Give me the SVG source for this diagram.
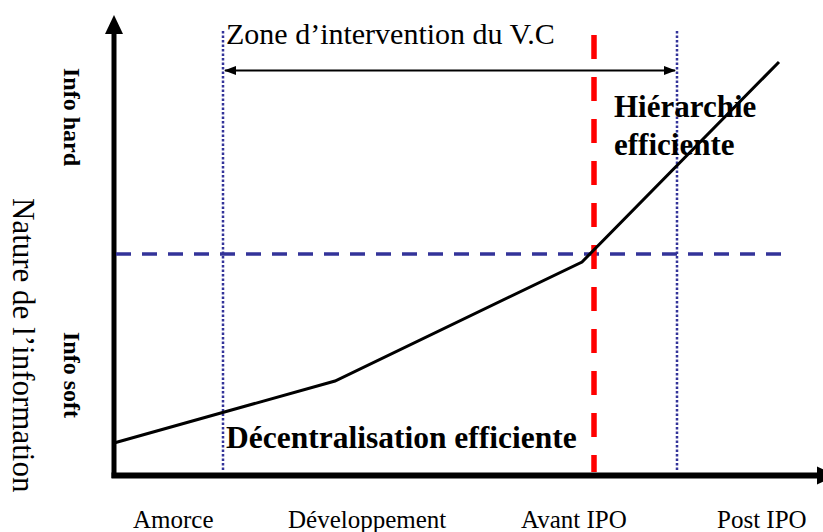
<svg xmlns="http://www.w3.org/2000/svg" width="823" height="532" viewBox="0 0 823 532">
<style>
text{font-family:"Liberation Serif","Times New Roman",serif;fill:#000}
.b{font-weight:bold}
.ax{stroke:#000;fill:none}
.dot{stroke:#333399;stroke-width:2.5;stroke-dasharray:2.5 2;fill:none}
</style>
<defs>
<marker id="big" markerUnits="userSpaceOnUse" markerWidth="20" markerHeight="20" refX="0" refY="9" orient="auto" viewBox="0 0 20 18">
<path d="M0,0 L19,9 L0,18 Z" fill="#000"/>
</marker>
<marker id="sm" markerUnits="userSpaceOnUse" markerWidth="12" markerHeight="10" refX="11" refY="4.5" orient="auto-start-reverse" viewBox="0 0 12 9">
<path d="M0,0 L12,4.5 L0,9 Z" fill="#000"/>
</marker>
</defs>
<g id="axes">
<line class="ax" x1="114" y1="478" x2="114" y2="34" stroke-width="5" marker-end="url(#big)"/>
<line class="ax" x1="111.5" y1="475.5" x2="817" y2="475.5" stroke-width="6" marker-end="url(#big)"/>
</g>
<g id="guides">
<line class="dot" x1="223" y1="31" x2="223" y2="471"/>
<line class="dot" x1="677" y1="31" x2="677" y2="471"/>
<line x1="116" y1="254" x2="790" y2="254" stroke="#333399" stroke-width="3.5" stroke-dasharray="15 11"/>
<line x1="594" y1="35" x2="594" y2="472" stroke="#ff0000" stroke-width="5.5" stroke-dasharray="24 18"/>
</g>
<g id="connectors">
<line x1="225" y1="70.5" x2="675" y2="70.5" stroke="#000" stroke-width="2" marker-start="url(#sm)" marker-end="url(#sm)"/>
<polyline points="114,443 335,381 582,262 779,62" fill="none" stroke="#000" stroke-width="3"/>
</g>
<g id="zone-label"><text x="226" y="44" font-size="30">Zone d’intervention du V.C</text></g>
<g id="hierarchie"><text class="b" x="614" y="117" font-size="31">Hiérarchie</text><text class="b" x="614" y="155" font-size="31">efficiente</text></g>
<g id="decentralisation"><text class="b" x="226" y="448" font-size="31.5">Décentralisation efficiente</text></g>
<g id="y-labels">
<text class="b" font-size="24" transform="translate(64,68) rotate(90)">Info hard</text>
<text class="b" font-size="24" transform="translate(64,332) rotate(90)">Info soft</text>
<text font-size="31" transform="translate(13,198) rotate(90)">Nature de l’information</text>
</g>
<g id="x-labels">
<text x="133" y="528" font-size="25">Amorce</text>
<text x="288" y="528" font-size="25">Développement</text>
<text x="521" y="528" font-size="25">Avant IPO</text>
<text x="717" y="528" font-size="25">Post IPO</text>
</g>
</svg>
